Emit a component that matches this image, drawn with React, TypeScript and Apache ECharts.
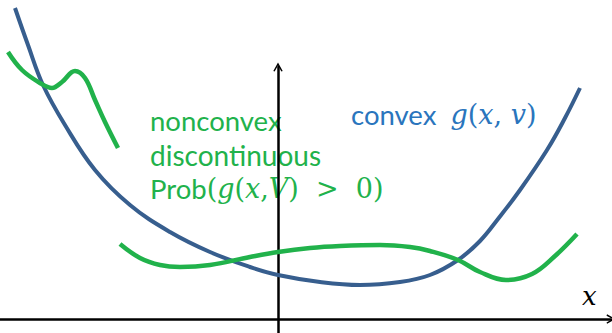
import React, { useEffect, useRef } from "react";
import * as echarts from "echarts";

// Data coordinates: origin at the axes' crossing, 1 unit = 10 px
const blueCurve: [number, number][] = [
  [-26.3, 31.1], [-25.0, 27.4], [-23.5, 23.4], [-21.3, 19.4], [-18.3, 14.9],
  [-14.8, 11.4], [-10.8, 8.7], [-6.8, 6.7], [-2.8, 5.2], [0, 4.4],
  [4.2, 3.7], [8.2, 3.4], [12.2, 3.7], [15.2, 4.4], [18.0, 5.9],
  [20.2, 7.8], [22.0, 10.0], [24.2, 12.9], [26.9, 16.9], [28.7, 20.1], [30.2, 23.1],
];
const greenLeft: [number, number][] = [
  [-27.0, 26.7], [-25.6, 24.9], [-23.8, 23.6], [-22.6, 23.1], [-21.6, 23.7],
  [-20.3, 24.8], [-19.3, 24.1], [-18.3, 21.9], [-17.3, 19.7], [-16.0, 17.1],
];
const greenRight: [number, number][] = [
  [-15.8, 7.5], [-13.8, 6.1], [-11.8, 5.4], [-9.8, 5.2], [-6.8, 5.4],
  [-2.8, 6.2], [0, 6.7], [3.2, 7.1], [6.2, 7.3], [10.2, 7.4], [13.2, 7.2],
  [15.2, 6.8], [18.0, 5.9], [20.2, 4.7], [22.8, 3.9], [25.4, 4.5],
  [27.7, 6.3], [29.9, 8.5],
];
const xRange = [-27.8, 33.3];
const yRange = [-1.4, 25.2];

const BLUE = "#375E8E";
const GREEN = "#21B24B";
const TEXT_BLUE = "#2A75BD";
const SANS = "Lato, 'Open Sans', sans-serif";
const MATH = "'DejaVu Serif', 'Liberation Serif', serif";
const ARROW = "path://M0,9 L5,0 L10,9 L8.6,9.6 L5,3.2 L1.4,9.6 Z";

export default function App() {
  const ref = useRef<HTMLDivElement>(null);
  useEffect(() => {
    if (!ref.current) return;
    const chart = echarts.init(ref.current, null, { renderer: "svg" });
    const axisCommon = {
      type: "value" as const,
      axisTick: { show: false },
      axisLabel: { show: false },
      splitLine: { show: false },
    };
    const mathRich = (c: string) => ({
      m: { fontFamily: MATH, fontSize: 27, fill: c, color: c },
      i: { fontFamily: MATH, fontStyle: "italic", fontSize: 27, fill: c, color: c },
    });
    chart.setOption({
      animation: false,
      backgroundColor: "#ffffff",
      grid: { left: 0, right: 1, top: 67, bottom: 0, containLabel: false },
      xAxis: {
        ...axisCommon,
        min: xRange[0],
        max: xRange[1],
        axisLine: {
          show: true,
          onZero: true,
          symbol: ["none", ARROW],
          symbolSize: [10, 9],
          lineStyle: { color: "#000", width: 2.5 },
        },
      },
      yAxis: {
        ...axisCommon,
        min: yRange[0],
        max: yRange[1],
        axisLine: {
          show: true,
          onZero: true,
          symbol: ["none", ARROW],
          symbolSize: [10, 9],
          lineStyle: { color: "#000", width: 2.5 },
        },
      },
      series: [
        {
          type: "line", data: blueCurve, smooth: 0.4, symbol: "none", clip: false,
          lineStyle: { color: BLUE, width: 4 },
        },
        {
          type: "line", data: greenLeft, smooth: 0.4, symbol: "none", clip: false,
          lineStyle: { color: GREEN, width: 4.5 },
        },
        {
          type: "line", data: greenRight, smooth: 0.4, symbol: "none", clip: false,
          lineStyle: { color: GREEN, width: 4.5 },
        },
      ],
      graphic: [
        {
          type: "text", left: 150, top: 106,
          style: { text: "nonconvex", font: `27.5px ${SANS}`, fill: GREEN },
        },
        {
          type: "text", left: 150, top: 141,
          style: { text: "discontinuous", font: `28px ${SANS}`, fill: GREEN },
        },
        {
          type: "text", left: 150, top: 174,
          style: {
            text: "Prob{m|(}{i|g}{m|(}{i|x}{m|,}{i|V}{m|)  >  0)}",
            font: `27.5px ${SANS}`, fill: GREEN,
            rich: mathRich(GREEN),
          },
        },
        {
          type: "text", left: 351, top: 100,
          style: {
            text: "convex  {i|g}{m|(}{i|x}{m|, }{i|v}{m|)}",
            font: `27.5px ${SANS}`, fill: TEXT_BLUE,
            rich: mathRich(TEXT_BLUE),
          },
        },
        {
          type: "text", left: 582, top: 283,
          style: { text: "x", font: `italic 26px ${MATH}`, fill: "#000" },
        },
      ],
    });
    return () => chart.dispose();
  }, []);
  return (
    <div
      ref={ref}
      style={{ position: "fixed", left: 0, top: 0, width: 612, height: 333 }}
    />
  );
}
